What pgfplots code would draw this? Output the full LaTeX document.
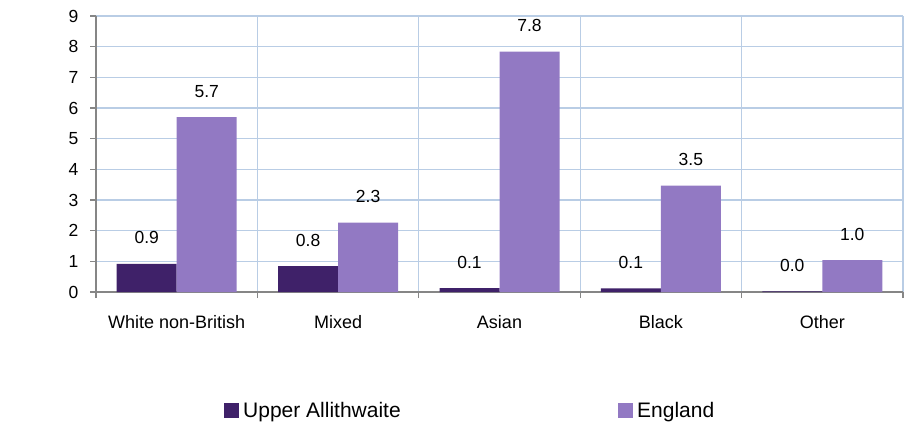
\documentclass[border=0pt]{standalone}
\usepackage{pgfplots}
\pgfplotsset{compat=1.18}
\usepackage{fontspec}
\setmainfont{Liberation Sans}
\definecolor{darkp}{HTML}{3F2169}
\definecolor{lightp}{HTML}{9279C3}
\definecolor{gridb}{HTML}{B9CDE5}
\definecolor{axg}{HTML}{868686}
\begin{document}
\begin{tikzpicture}[x=1pt,y=1pt]
\useasboundingbox (0,0) rectangle (904,426);
\begin{axis}[
  at={(96pt,134pt)}, anchor=south west,
  scale only axis, width=807pt, height=276pt,
  font=\fontsize{17.5}{21}\selectfont,
  /pgf/number format/assume math mode=true,
  ybar, bar width=60pt,
  xmin=-0.5, xmax=4.5, ymin=0, ymax=9,
  ytick={0,...,9},
  yticklabel style={anchor=east, xshift=-8pt},
  xtick={-0.5,0.5,...,4.5}, xticklabels={},
  extra x ticks={0,1,2,3,4},
  extra x tick labels={White non-British,Mixed,Asian,Black,Other},
  extra x tick style={major tick length=0pt, grid=none, xticklabel style={anchor=base, yshift=-36pt, font=\fontsize{18}{21}\selectfont}},
  axis x line*=bottom, axis y line*=left,
  axis line style={draw=axg, line width=1.2pt},
  tick style={draw=axg, line width=1.2pt},
  tick align=outside, major tick length=6pt,
  xmajorgrids, ymajorgrids,
  major grid style={draw=gridb, line width=1.2pt},
  nodes near coords,
  nodes near coords style={/pgf/number format/fixed, /pgf/number format/fixed zerofill, /pgf/number format/precision=1, anchor=center, yshift=26pt, text=black},
  legend style={draw=none, font=\fontsize{21}{25}\selectfont, at={(axis description cs:0,0)}, anchor=west, xshift=125pt, yshift=-118.5pt, legend columns=2, /tikz/every even column/.append style={column sep=0pt}, nodes={inner sep=2pt}},
  legend image code/.code={\fill[#1,draw=none] (0pt,-7.5pt) rectangle (15pt,7.5pt); \path (17pt,0pt);},
]
\addplot[fill=darkp, draw=none, bar shift=-30pt] coordinates {(0,0.92) (1,0.84) (2,0.13) (3,0.12) (4,0.02)};
\addlegendentry{\makebox[373pt][l]{Upper Allithwaite}}
\addplot[fill=lightp, draw=none, bar shift=30pt] coordinates {(0,5.7) (1,2.26) (2,7.84) (3,3.47) (4,1.04)};
\addlegendentry{England}
\node at (axis description cs:0,0.525) [xshift=-70pt] {\%};
\end{axis}
\end{tikzpicture}
\end{document}
